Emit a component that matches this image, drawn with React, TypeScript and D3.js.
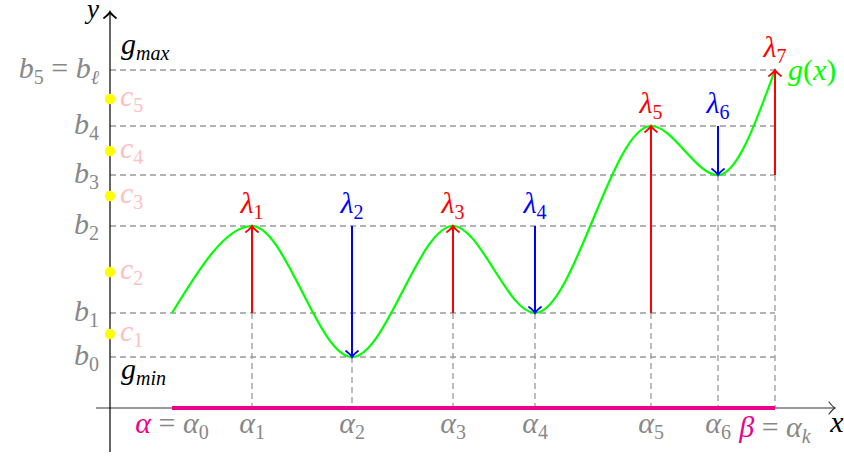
import React from "react";
import * as d3 from "d3";

// Partition points on the x axis (alpha_0 ... alpha_k)
const alphaX = [1.24, 2.84, 4.84, 6.86, 8.5, 10.82, 12.16, 13.3];
const alphaLabels = ["0", "1", "2", "3", "4", "5", "6", "k"];

// Levels b_0 ... b_5 on the y axis
const bLevels = [1.02, 1.9, 3.64, 4.66, 5.64, 6.76];
const bLabels = ["0", "1", "2", "3", "4", "5"];

// Intermediate points c_1 ... c_5
const cLevels = [1.48, 2.72, 4.24, 5.14, 6.18];
const cLabels = ["1", "2", "3", "4", "5"];

// g(x) at each alpha, given as the index of the b level it reaches
const gAtAlpha = [1, 2, 0, 2, 1, 4, 3, 5];

// Jumps lambda_i: position (alpha index), start level, end level
const lambdaAlpha = [1, 2, 3, 4, 5, 6, 7];
const lambdaFrom = [1, 2, 1, 2, 1, 4, 3];
const lambdaTo = [2, 0, 2, 1, 4, 3, 5];

const W = 844;
const H = 458;
const FONT = "Liberation Serif";
const FS = 30;
const SFS = 20;
const GRAY = "#888888";
const PINK = "#ffc0c0";
const MAGENTA = "#ec008c";
const DASH = "#9a9a9a";

const x = d3.scaleLinear().domain([0, 14.5]).range([110, 835]);
const y = d3.scaleLinear().domain([0, 7.92]).range([408, 12]);

type Seg = { t: string; sub?: boolean; it?: boolean; color?: string };

function MathText({
  x: px,
  y: py,
  segs,
  anchor = "start",
  color = "#000",
  size = FS,
}: {
  x: number;
  y: number;
  segs: Seg[];
  anchor?: "start" | "middle" | "end";
  color?: string;
  size?: number;
}) {
  const out: React.ReactNode[] = [];
  let shift = 0;
  segs.forEach((s, i) => {
    const target = s.sub ? 6 : 0;
    const dy = target - shift;
    shift = target;
    out.push(
      <tspan
        key={i}
        dy={dy}
        style={{ fontSize: s.sub ? SFS : size, fontStyle: s.it ? "italic" : "normal", fontFamily: FONT }}
        fill={s.color || color}
      >
        {s.t}
      </tspan>
    );
  });
  return (
    <text x={px} y={py} textAnchor={anchor} style={{ fontFamily: FONT, fontSize: size }} fill={color}>
      {out}
    </text>
  );
}

function ArrowHead({ x0, y0, dir, color }: { x0: number; y0: number; dir: 1 | -1; color: string }) {
  // dir = -1 points up, dir = 1 points down
  const s = 6;
  const d = `M${x0 - s},${y0 - dir * s} Q${x0 - 1},${y0 - dir * 2} ${x0},${y0} Q${x0 + 1},${y0 - dir * 2} ${x0 + s},${y0 - dir * s}`;
  return <path d={d} fill="none" stroke={color} strokeWidth={1.8} strokeLinecap="round" />;
}

function ArrowHeadH({ x0, y0 }: { x0: number; y0: number }) {
  const s = 6;
  const d = `M${x0 - s},${y0 - s} Q${x0 - 2},${y0 - 1} ${x0},${y0} Q${x0 - 2},${y0 + 1} ${x0 - s},${y0 + s}`;
  return <path d={d} fill="none" stroke="#333" strokeWidth={1.2} strokeLinecap="round" />;
}

export default function App() {
  const curvePts: [number, number][] = alphaX.map((a, i) => [x(a), y(bLevels[gAtAlpha[i]])]);
  const line = d3.line().curve(d3.curveMonotoneX);
  const xEnd = x(alphaX[alphaX.length - 1]);

  return (
    <svg width={W} height={H} style={{ position: "absolute", left: 0, top: 0, background: "#fff" }}>
      {/* horizontal dashed level lines */}
      {bLevels.map((b, i) => (
        <line key={"h" + i} x1={x(0)} x2={xEnd} y1={y(b)} y2={y(b)} stroke={DASH} strokeWidth={1.3} strokeDasharray="6 4" />
      ))}

      {/* vertical dashed lines from each jump down to the x axis */}
      {lambdaAlpha.map((ai, i) => {
        const lo = Math.min(bLevels[lambdaFrom[i]], bLevels[lambdaTo[i]]);
        return (
          <line key={"v" + i} x1={x(alphaX[ai])} x2={x(alphaX[ai])} y1={y(lo)} y2={y(0)} stroke={DASH} strokeWidth={1.3} strokeDasharray="6 4" />
        );
      })}

      {/* axes */}
      <line x1={96} x2={x(14.5)} y1={y(0)} y2={y(0)} stroke="#333" strokeWidth={1.2} />
      <ArrowHeadH x0={x(14.5)} y0={y(0)} />
      <line x1={x(0)} x2={x(0)} y1={452} y2={y(7.92)} stroke="#000" strokeWidth={1.2} />
      <ArrowHead x0={x(0)} y0={y(7.92)} dir={-1} color="#000" />

      {/* interval [alpha, beta] */}
      <line x1={x(alphaX[0])} x2={xEnd} y1={y(0)} y2={y(0)} stroke={MAGENTA} strokeWidth={4} />

      {/* g(x) */}
      <path d={line(curvePts) || ""} fill="none" stroke="#00ff00" strokeWidth={2.2} />

      {/* jumps */}
      {lambdaAlpha.map((ai, i) => {
        const up = bLevels[lambdaTo[i]] > bLevels[lambdaFrom[i]];
        const color = up ? "#ff0000" : "#0000ff";
        const px = x(alphaX[ai]);
        const y0 = y(bLevels[lambdaFrom[i]]);
        const y1 = y(bLevels[lambdaTo[i]]);
        const top = Math.min(y0, y1);
        return (
          <g key={"l" + i}>
            <line x1={px} x2={px} y1={y0} y2={y1} stroke={color} strokeWidth={2} />
            <ArrowHead x0={px} y0={y1} dir={up ? -1 : 1} color={color} />
            <MathText
              x={px}
              y={top - 13}
              anchor="middle"
              color={color}
              segs={[{ t: "λ", it: true }, { t: String(i + 1), sub: true }]}
            />
          </g>
        );
      })}

      {/* yellow markers c_i */}
      {cLevels.map((c, i) => (
        <g key={"c" + i}>
          <circle cx={x(0)} cy={y(c)} r={5.2} fill="#ffff00" />
          <MathText x={120} y={y(c) + 7} color={PINK} segs={[{ t: "c", it: true }, { t: cLabels[i], sub: true }]} />
        </g>
      ))}

      {/* b labels */}
      {bLevels.map((b, i) =>
        i === bLevels.length - 1 ? (
          <MathText
            key={"b" + i}
            x={99}
            y={y(b) + 8}
            anchor="end"
            color={GRAY}
            segs={[
              { t: "b", it: true },
              { t: bLabels[i], sub: true },
              { t: " = " },
              { t: "b", it: true },
              { t: "ℓ", sub: true, it: true },
            ]}
          />
        ) : (
          <MathText
            key={"b" + i}
            x={99}
            y={y(b) + 8}
            anchor="end"
            color={GRAY}
            segs={[{ t: "b", it: true }, { t: bLabels[i], sub: true }]}
          />
        )
      )}

      {/* alpha labels */}
      {alphaX.map((a, i) => {
        if (i === 0) {
          return (
            <MathText
              key={"a" + i}
              x={x(a)}
              y={433}
              anchor="middle"
              color={GRAY}
              segs={[{ t: "α", it: true, color: MAGENTA }, { t: " = " }, { t: "α", it: true }, { t: "0", sub: true }]}
            />
          );
        }
        if (i === alphaX.length - 1) {
          return (
            <MathText
              key={"a" + i}
              x={x(a)}
              y={437}
              anchor="middle"
              color={GRAY}
              segs={[{ t: "β", it: true, color: MAGENTA }, { t: " = " }, { t: "α", it: true }, { t: "k", sub: true, it: true }]}
            />
          );
        }
        return (
          <MathText
            key={"a" + i}
            x={x(a)}
            y={433}
            anchor="middle"
            color={GRAY}
            segs={[{ t: "α", it: true }, { t: alphaLabels[i], sub: true }]}
          />
        );
      })}

      {/* annotations */}
      <MathText x={93} y={18} size={27} anchor="middle" segs={[{ t: "y", it: true }]} />
      <MathText x={837} y={432} anchor="middle" segs={[{ t: "x", it: true }]} />
      <MathText x={121} y={54} segs={[{ t: "g", it: true }, { t: "max", sub: true, it: true }]} />
      <MathText x={121} y={379} segs={[{ t: "g", it: true }, { t: "min", sub: true, it: true }]} />
      <MathText
        x={788}
        y={80}
        color="#00ff00"
        segs={[{ t: "g", it: true }, { t: "(" }, { t: "x", it: true }, { t: ")" }]}
      />
    </svg>
  );
}
